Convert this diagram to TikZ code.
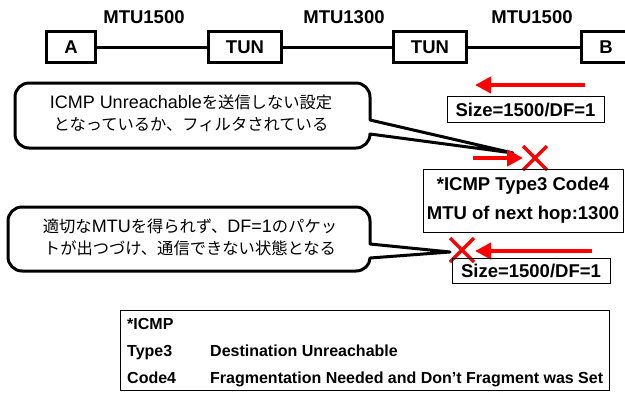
\documentclass[tikz,border=0pt]{standalone}
\usepackage{fontspec}
\setmainfont{Liberation Sans}
\newfontfamily\jpfont{Noto Sans CJK JP}
\usetikzlibrary{arrows.meta}
\newcommand{\jtxt}[1]{{\jpfont\fontsize{16.3}{22}\selectfont #1}}
\definecolor{xred}{RGB}{255,0,0}
\tikzset{
  netbox/.style={draw, line width=3pt, minimum height=31pt, inner sep=0pt,
    font=\bfseries\fontsize{18.5}{20}\selectfont},
  link/.style={line width=3pt},
  mtulabel/.style={inner sep=0pt, font=\bfseries\fontsize{18.5}{20}\selectfont},
  pktbox/.style={draw, line width=1pt, minimum width=157pt, minimum height=26pt,
    inner sep=0pt, font=\bfseries\fontsize{18.5}{20}\selectfont},
  redarrow/.style={draw=xred, line width=4pt, -{Triangle[length=16pt,width=16pt]}},
  xmark/.style={draw=xred, line width=3.5pt},
  callout/.style={draw, fill=white, line width=3pt, line join=round},
  calltext/.style={inner sep=0pt, align=center, font=\fontsize{18}{22}\selectfont},
  tabtext/.style={inner sep=0pt, anchor=base west, font=\bfseries\fontsize{16}{18}\selectfont},
}
\begin{document}
\begin{tikzpicture}[x=1pt,y=-1pt]
\useasboundingbox (0,0) rectangle (625,392);
\fill[white] (0,0) rectangle (625,392);

% network line
\node[netbox, minimum width=49pt] (A) at (71,47) {A};
\node[netbox, minimum width=73pt] (T1) at (245,47) {TUN};
\node[netbox, minimum width=73pt] (T2) at (430,47) {TUN};
\node[netbox, minimum width=49pt] (B) at (606,47) {B};
\draw[link] (A) -- (T1);
\draw[link] (T1) -- (T2);
\draw[link] (T2) -- (B);
\node[mtulabel] (m1) at (144,17.5) {MTU1500};
\node[mtulabel] (m2) at (344,17.5) {MTU1300};
\node[mtulabel] (m3) at (532,17.5) {MTU1500};

% top packet
\coordinate (a1s) at (585,85);
\coordinate (a1e) at (475,85);
\draw[redarrow] (a1s) -- (a1e);
\node[pktbox] (s1) at (525.5,109.5) {Size=1500/DF=1};

% callout 1
\coordinate (tip1) at (513,153);
\draw[callout] (29,83) -- (356,83) .. controls (363.7,83) and (370,89.3) .. (370,97)
  -- (370,120) -- (tip1) -- (370,134)
  .. controls (370,141.7) and (363.7,148) .. (356,148) -- (29,148)
  .. controls (21.3,148) and (15,141.7) .. (15,134) -- (15,97)
  .. controls (15,89.3) and (21.3,83) .. (29,83) -- cycle;
\node[calltext] (c1) at (191,113) {ICMP Unreachable\jtxt{を送信しない設定}\\\jtxt{となっているか、フィルタされている}};

% ICMP reply
\coordinate (a2s) at (473,158);
\coordinate (a2e) at (523,158);
\draw[redarrow] (a2s) -- (a2e);
\coordinate (x1) at (535,158);
\draw[xmark] ([shift={(-12,-12)}]x1) -- ([shift={(12,12)}]x1);
\draw[xmark] ([shift={(-12,12)}]x1) -- ([shift={(12,-12)}]x1);
\node[draw, line width=1pt, minimum width=200pt, minimum height=63pt, inner sep=0pt,
  align=center, font=\bfseries\fontsize{18.5}{29}\selectfont] (icmp) at (523,200.5)
  {*ICMP Type3 Code4\\MTU of next hop:1300};

% callout 2
\coordinate (tip2) at (450,252);
\draw[callout] (22,207) -- (356,207) .. controls (363.7,207) and (370,213.3) .. (370,221)
  -- (370,244) -- (tip2) -- (370,258)
  .. controls (370,265) and (363.7,271) .. (356,271) -- (22,271)
  .. controls (14.3,271) and (8,264.7) .. (8,257) -- (8,221)
  .. controls (8,213.3) and (14.3,207) .. (22,207) -- cycle;
\node[calltext] (c2) at (190,237) {\jtxt{適切な}MTU\jtxt{を得られず、}DF=1\jtxt{のパケッ}\\\jtxt{トが出つづけ、通信できない状態となる}};

% bottom packet
\coordinate (a3s) at (592,251);
\coordinate (a3e) at (475,251);
\draw[redarrow] (a3s) -- (a3e);
\coordinate (x2) at (462,250);
\draw[xmark] ([shift={(-12,-12)}]x2) -- ([shift={(12,12)}]x2);
\draw[xmark] ([shift={(-12,12)}]x2) -- ([shift={(12,-12)}]x2);
\node[pktbox, minimum width=158pt, minimum height=25pt] (s2) at (531,270.5) {Size=1500/DF=1};

% table
\node[draw, line width=1pt, minimum width=489pt, minimum height=80pt, inner sep=0pt] (tab) at (364.5,350) {};
\node[tabtext] (r1a) at (127,329) {*ICMP};
\node[tabtext] (r2a) at (127,356) {Type3};
\node[tabtext] (r2b) at (210,356) {Destination Unreachable};
\node[tabtext] (r3a) at (127,383) {Code4};
\node[tabtext] (r3b) at (210,383) {Fragmentation Needed and Don’t Fragment was Set};
\end{tikzpicture}
\end{document}
